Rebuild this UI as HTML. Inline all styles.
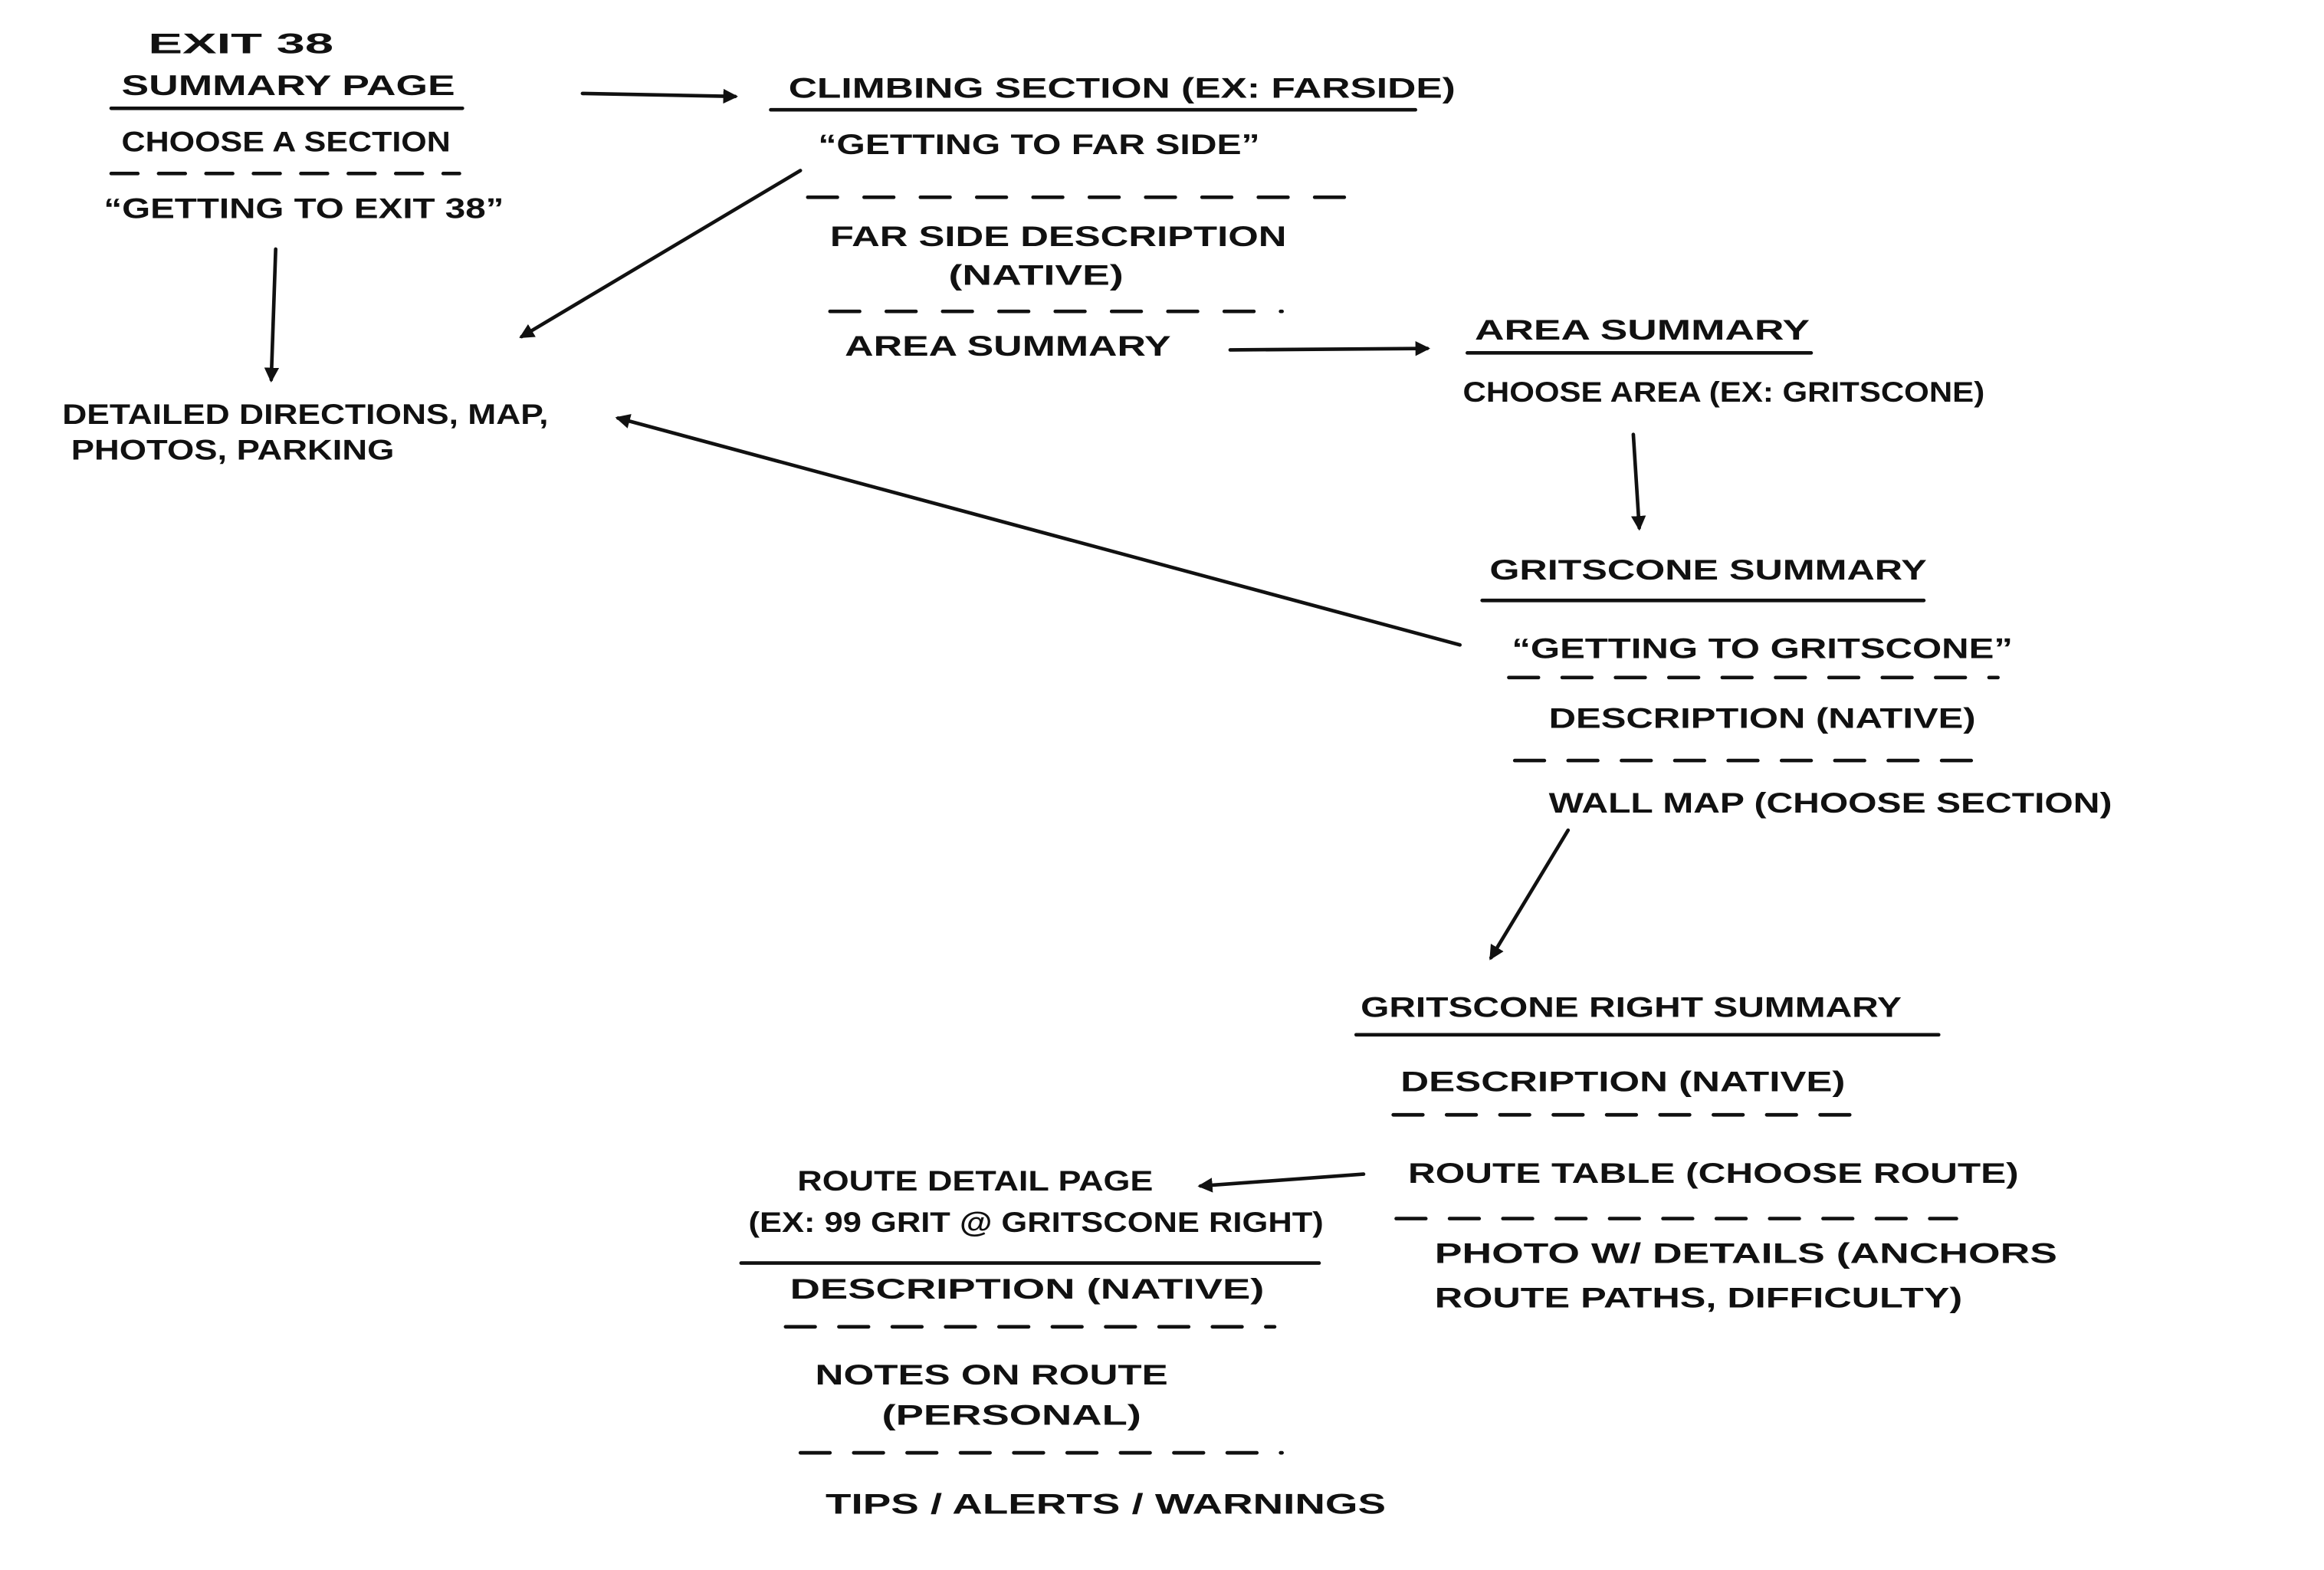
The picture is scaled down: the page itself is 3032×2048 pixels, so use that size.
<!DOCTYPE html>
<html><head><meta charset="utf-8"><style>
html,body{margin:0;padding:0;background:#fff}
svg{display:block}
text{font-family:"Liberation Sans",sans-serif;font-size:19px;fill:#111;font-weight:bold}
</style></head><body>
<svg width="3032" height="2048" viewBox="0 0 1568 1059" xmlns="http://www.w3.org/2000/svg">
<defs><marker id="a" markerWidth="10" markerHeight="10" refX="8" refY="5" orient="auto" markerUnits="userSpaceOnUse"><path d="M0,0 L10,5 L0,10 z" fill="#111"/></marker></defs>
<g stroke="#111" stroke-width="2.4" fill="none" stroke-linecap="round">
<line x1="75" y1="73" x2="312" y2="73"/>
<line x1="75" y1="117" x2="310" y2="117" stroke-dasharray="18,14"/>
<line x1="186" y1="168" x2="183" y2="256" marker-end="url(#a)"/>
<line x1="393" y1="63" x2="496" y2="65" marker-end="url(#a)"/>
<line x1="520" y1="74" x2="955" y2="74"/>
<line x1="545" y1="133" x2="912" y2="133" stroke-dasharray="20,18"/>
<line x1="540" y1="115" x2="352" y2="227" marker-end="url(#a)"/>
<line x1="560" y1="210" x2="865" y2="210" stroke-dasharray="20,18"/>
<line x1="830" y1="236" x2="963" y2="235" marker-end="url(#a)"/>
<line x1="990" y1="238" x2="1222" y2="238"/>
<line x1="1102" y1="293" x2="1106" y2="356" marker-end="url(#a)"/>
<line x1="1000" y1="405" x2="1298" y2="405"/>
<line x1="1018" y1="457" x2="1348" y2="457" stroke-dasharray="20,16"/>
<line x1="1022" y1="513" x2="1340" y2="513" stroke-dasharray="20,16"/>
<line x1="985" y1="435" x2="417" y2="282" marker-end="url(#a)"/>
<line x1="1058" y1="560" x2="1006" y2="646" marker-end="url(#a)"/>
<line x1="915" y1="698" x2="1308" y2="698"/>
<line x1="940" y1="752" x2="1262" y2="752" stroke-dasharray="20,16"/>
<line x1="920" y1="792" x2="810" y2="800" marker-end="url(#a)"/>
<line x1="942" y1="822" x2="1320" y2="822" stroke-dasharray="20,16"/>
<line x1="500" y1="852" x2="890" y2="852"/>
<line x1="530" y1="895" x2="860" y2="895" stroke-dasharray="20,16"/>
<line x1="540" y1="980" x2="865" y2="980" stroke-dasharray="20,16"/>
</g>
<g>
<text x="100" y="36" textLength="125" lengthAdjust="spacingAndGlyphs" font-size="22">EXIT 38</text>
<text x="82" y="64" textLength="225" lengthAdjust="spacingAndGlyphs">SUMMARY PAGE</text>
<text x="82" y="102" textLength="222" lengthAdjust="spacingAndGlyphs">CHOOSE A SECTION</text>
<text x="70" y="147" textLength="270" lengthAdjust="spacingAndGlyphs">“GETTING TO EXIT 38”</text>
<text x="42" y="286" textLength="328" lengthAdjust="spacingAndGlyphs">DETAILED DIRECTIONS, MAP,</text>
<text x="48" y="310" textLength="218" lengthAdjust="spacingAndGlyphs">PHOTOS, PARKING</text>
<text x="532" y="66" textLength="450" lengthAdjust="spacingAndGlyphs">CLIMBING SECTION (EX: FARSIDE)</text>
<text x="552" y="104" textLength="298" lengthAdjust="spacingAndGlyphs">“GETTING TO FAR SIDE”</text>
<text x="560" y="166" textLength="308" lengthAdjust="spacingAndGlyphs">FAR SIDE DESCRIPTION</text>
<text x="640" y="192" textLength="118" lengthAdjust="spacingAndGlyphs">(NATIVE)</text>
<text x="570" y="240" textLength="220" lengthAdjust="spacingAndGlyphs">AREA SUMMARY</text>
<text x="995" y="229" textLength="226" lengthAdjust="spacingAndGlyphs">AREA SUMMARY</text>
<text x="987" y="271" textLength="352" lengthAdjust="spacingAndGlyphs">CHOOSE AREA (EX: GRITSCONE)</text>
<text x="1005" y="391" textLength="295" lengthAdjust="spacingAndGlyphs">GRITSCONE SUMMARY</text>
<text x="1020" y="444" textLength="338" lengthAdjust="spacingAndGlyphs">“GETTING TO GRITSCONE”</text>
<text x="1045" y="491" textLength="288" lengthAdjust="spacingAndGlyphs">DESCRIPTION (NATIVE)</text>
<text x="1045" y="548" textLength="380" lengthAdjust="spacingAndGlyphs">WALL MAP (CHOOSE SECTION)</text>
<text x="918" y="686" textLength="365" lengthAdjust="spacingAndGlyphs">GRITSCONE RIGHT SUMMARY</text>
<text x="945" y="736" textLength="300" lengthAdjust="spacingAndGlyphs">DESCRIPTION (NATIVE)</text>
<text x="950" y="798" textLength="412" lengthAdjust="spacingAndGlyphs">ROUTE TABLE (CHOOSE ROUTE)</text>
<text x="968" y="852" textLength="420" lengthAdjust="spacingAndGlyphs">PHOTO W/ DETAILS (ANCHORS</text>
<text x="968" y="882" textLength="356" lengthAdjust="spacingAndGlyphs">ROUTE PATHS, DIFFICULTY)</text>
<text x="538" y="803" textLength="240" lengthAdjust="spacingAndGlyphs">ROUTE DETAIL PAGE</text>
<text x="505" y="831" textLength="388" lengthAdjust="spacingAndGlyphs">(EX: 99 GRIT @ GRITSCONE RIGHT)</text>
<text x="533" y="876" textLength="320" lengthAdjust="spacingAndGlyphs">DESCRIPTION (NATIVE)</text>
<text x="550" y="934" textLength="238" lengthAdjust="spacingAndGlyphs">NOTES ON ROUTE</text>
<text x="595" y="961" textLength="175" lengthAdjust="spacingAndGlyphs">(PERSONAL)</text>
<text x="557" y="1021" textLength="378" lengthAdjust="spacingAndGlyphs">TIPS / ALERTS / WARNINGS</text>
</g>
</svg>
</body></html>
